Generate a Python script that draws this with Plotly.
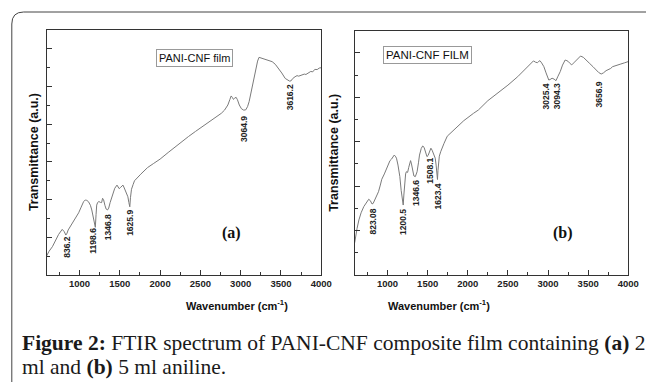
import plotly.graph_objects as go

W, H = 657, 382

# ---- data ----
wn_a = [590, 620, 663, 700, 740, 785, 810, 830, 845, 859, 890, 928, 960, 989, 1020, 1050, 1071, 1090,
        1111, 1135, 1152, 1168, 1185, 1196, 1205, 1213, 1225, 1240, 1260, 1274, 1286, 1298, 1315, 1330,
        1347, 1362, 1380, 1396, 1420, 1437, 1465, 1480, 1492, 1510, 1525, 1539, 1555, 1567, 1585, 1600,
        1612, 1624, 1632, 1645, 1665, 1682, 1760, 1844, 1920, 2000, 2100, 2200, 2280, 2353, 2440, 2536,
        2620, 2700, 2760, 2800, 2841, 2865, 2882, 2897, 2910, 2925, 2943, 2960, 2983, 3010, 3037, 3062,
        3085, 3105, 3126, 3155, 3187, 3210, 3228, 3250, 3269, 3300, 3340, 3391, 3430, 3472, 3510, 3553,
        3585, 3606, 3625, 3645, 3675, 3700, 3720, 3757, 3790, 3810, 3838, 3870, 3895, 3920, 3950, 3975, 4000]
t_a = [1.00, 1.25, 1.50, 1.80, 2.15, 2.42, 2.30, 2.12, 2.22, 2.39, 2.60, 2.83, 3.05, 3.30, 3.60, 3.89, 3.98, 3.96,
       3.89, 3.70, 3.45, 3.10, 2.65, 2.53, 3.20, 3.71, 3.85, 3.90, 3.85, 3.84, 4.07, 4.00, 3.70, 3.50,
       3.45, 3.55, 3.85, 4.07, 4.40, 4.60, 4.77, 4.68, 4.58, 4.65, 4.72, 4.77, 4.62, 4.50, 4.30, 4.15,
       3.85, 3.62, 4.10, 4.55, 4.80, 5.00, 5.35, 5.70, 5.92, 6.15, 6.50, 6.85, 7.10, 7.35, 7.62, 7.90,
       8.15, 8.40, 8.58, 8.75, 9.02, 9.30, 9.50, 9.42, 9.32, 9.38, 9.43, 9.30, 9.02, 8.82, 8.75, 8.76,
       8.93, 9.20, 9.64, 10.25, 10.88, 11.35, 11.55, 11.52, 11.50, 11.45, 11.40, 11.32, 11.18, 10.96, 10.72, 10.43,
       10.33, 10.29, 10.30, 10.42, 10.52, 10.58, 10.55, 10.61, 10.66, 10.64, 10.73, 10.80, 10.78, 10.91, 10.90, 10.98, 11.00]

wn_b = [590, 600, 620, 643, 670, 704, 735, 765, 785, 806, 820, 838, 860, 887, 910, 928, 960, 989, 1010, 1030,
        1050, 1065, 1083, 1097, 1111, 1130, 1153, 1170, 1185, 1195, 1203, 1214, 1225, 1234, 1250, 1264, 1275,
        1287, 1298, 1312, 1328, 1346, 1360, 1368, 1385, 1398, 1420, 1438, 1455, 1470, 1491, 1505, 1520, 1540,
        1555, 1570, 1594, 1605, 1613, 1622, 1628, 1634, 1645, 1662, 1682, 1704, 1744, 1846, 1950, 2071, 2132,
        2250, 2377, 2500, 2622, 2700, 2750, 2785, 2818, 2845, 2867, 2885, 2899, 2920, 2948, 2975, 3000, 3009,
        3025, 3050, 3075, 3099, 3120, 3152, 3180, 3213, 3235, 3253, 3275, 3295, 3320, 3356, 3380, 3405, 3440,
        3479, 3520, 3560, 3600, 3630, 3662, 3690, 3723, 3750, 3780, 3804, 3850, 3907, 3950, 4000]
t_b = [1.45, 1.75, 2.10, 2.48, 2.80, 3.08, 3.28, 3.41, 3.35, 3.20, 3.22, 3.38, 3.55, 3.75, 4.05, 4.31, 4.55, 4.80, 5.00, 5.15,
       5.22, 5.30, 5.40, 5.35, 5.26, 4.95, 4.43, 3.80, 3.23, 3.15, 3.60, 4.28, 4.55, 4.65, 4.62, 4.85, 5.03,
       5.15, 5.00, 4.70, 4.46, 4.43, 4.55, 4.65, 5.05, 5.40, 5.70, 5.81, 5.75, 5.55, 5.33, 5.38, 5.55, 5.71,
       5.62, 5.45, 5.26, 4.95, 4.36, 4.30, 4.70, 5.18, 5.35, 5.55, 5.75, 5.93, 6.25, 6.60, 6.95, 7.28, 7.43,
       7.85, 8.20, 8.55, 8.93, 9.20, 9.40, 9.53, 9.64, 9.58, 9.56, 9.62, 9.65, 9.55, 9.38, 9.10, 8.85, 8.78,
       8.80, 8.86, 8.82, 8.75, 8.92, 9.16, 9.45, 9.68, 9.65, 9.61, 9.52, 9.46, 9.55, 9.68, 9.80, 9.86, 9.80,
       9.68, 9.52, 9.38, 9.22, 9.12, 9.05, 9.10, 9.20, 9.24, 9.30, 9.38, 9.42, 9.50, 9.55, 9.61]

# peak labels: (text, wavenumber position, transmittance position)
labels_a = [("836.2", 843, 1.49), ("1198.6", 1174, 1.80), ("1346.8", 1356, 2.55),
            ("1625.9", 1625, 2.76), ("3064.9", 3041, 7.75), ("3616.2", 3615, 9.44)]
labels_b = [("823.08", 814, 2.39), ("1200.5", 1193, 2.39), ("1346.6", 1353, 3.69),
            ("1508.1", 1524, 4.68), ("1623.4", 1622, 3.56), ("3025.4", 2980, 8.06),
            ("3094.3", 3115, 8.06), ("3656.9", 3641, 8.15)]

x_tickvals = [1000, 1500, 2000, 2500, 3000, 3500, 4000]
x_ticktext = [str(v) for v in x_tickvals]


def px(x):
    return x / W


def py(y):
    return 1 - y / H


fig = go.Figure()
line_style = dict(color="#7a7a7a", width=1)
fig.add_trace(go.Scatter(x=wn_a, y=t_a, mode="lines", line=line_style, xaxis="x", yaxis="y",
                         showlegend=False, hoverinfo="skip"))
fig.add_trace(go.Scatter(x=wn_b, y=t_b, mode="lines", line=line_style, xaxis="x2", yaxis="y2",
                         showlegend=False, hoverinfo="skip"))

axis_common = dict(showline=True, mirror=True, linecolor="#333333", linewidth=1, showgrid=False,
                   zeroline=False, ticks="inside", tickcolor="#333333")

xa = dict(axis_common, range=[590, 4000], tickvals=x_tickvals, ticktext=x_ticktext, ticklen=5,
          tickfont=dict(family="Arial, Liberation Sans", size=9.5, color="#222222", weight="bold"),
          minor=dict(ticks="inside", dtick=250, tick0=0, ticklen=3, tickcolor="#333333"))
ya1 = dict(axis_common, range=[0, 13], tickvals=[2, 4, 6, 8, 10, 12], ticklen=5, showticklabels=False,
           minor=dict(ticks="inside", dtick=1, tick0=0, ticklen=3, tickcolor="#333333"))
ya2 = dict(axis_common, range=[0, 11], tickvals=[2, 4, 6, 8, 10], ticklen=5, showticklabels=False,
           minor=dict(ticks="inside", dtick=1, tick0=0, ticklen=3, tickcolor="#333333"))

fig.update_layout(
    width=W, height=H, margin=dict(l=0, r=0, t=0, b=0),
    paper_bgcolor="white", plot_bgcolor="white",
    xaxis=dict(xa, domain=[px(47.3), px(326.7)], anchor="y"),
    yaxis=dict(ya1, domain=[py(275), py(30)], anchor="x"),
    xaxis2=dict(xa, domain=[px(360.7), px(639)], anchor="y2"),
    yaxis2=dict(ya2, domain=[py(275), py(30.7)], anchor="x2"),
)

ann = []
lab_font = dict(family="Arial, Liberation Sans", size=8.5, color="#222222", weight="bold")
for t, x, y in labels_a:
    ann.append(dict(text=t, x=x, y=y, xref="x", yref="y", textangle=-90, showarrow=False, font=lab_font))
for t, x, y in labels_b:
    ann.append(dict(text=t, x=x, y=y, xref="x2", yref="y2", textangle=-90, showarrow=False, font=lab_font))

ann.append(dict(text="PANI-CNF film", x=2424, y=11.54, xref="x", yref="y", showarrow=False,
                font=dict(family="Arial, Liberation Sans", size=11, color="#111111"),
                bordercolor="#999999", borderwidth=1, borderpad=2, bgcolor="white"))
ann.append(dict(text="PANI-CNF FILM", x=1499, y=9.91, xref="x2", yref="y2", showarrow=False,
                font=dict(family="Arial, Liberation Sans", size=11.5, color="#111111"),
                bordercolor="#999999", borderwidth=1, borderpad=2, bgcolor="white"))
ann.append(dict(text="<b>(a)</b>", x=2882, y=2.23, xref="x", yref="y", showarrow=False,
                font=dict(family="Liberation Serif, Times New Roman", size=16, color="#111111")))
ann.append(dict(text="<b>(b)</b>", x=3189, y=1.89, xref="x2", yref="y2", showarrow=False,
                font=dict(family="Liberation Serif, Times New Roman", size=16, color="#111111")))

title_font = dict(family="Arial, Liberation Sans", size=12.5, color="#111111", weight="bold")
for cx in (25, 339):
    ann.append(dict(text="Transmittance (a.u.)", x=px(cx), y=py(152.5), xref="paper", yref="paper",
                    textangle=-90, showarrow=False, font=title_font))
xt_font = dict(family="Arial, Liberation Sans", size=11, color="#111111", weight="bold")
for cx in (187, 500):
    ann.append(dict(text="Wavenumber (cm<sup>-1</sup>)", x=px(cx), y=py(314), xref="paper", yref="paper",
                    showarrow=False, font=xt_font))

cap_font = dict(family="Liberation Serif, Times New Roman", size=21.5, color="#1a1a1a")
ann.append(dict(text="<b>Figure 2:</b> FTIR spectrum of PANI-CNF composite film containing <b>(a)</b> 2",
                x=px(20), y=py(343), xref="paper", yref="paper", xanchor="left", yanchor="middle",
                showarrow=False, font=cap_font))
ann.append(dict(text="ml and <b>(b)</b> 5 ml aniline.",
                x=px(20), y=py(367), xref="paper", yref="paper", xanchor="left", yanchor="middle",
                showarrow=False, font=cap_font))

fig.update_layout(annotations=ann)

# rounded frame (top-left corner)
path = "M {a},{b} L {a},{c} Q {a},{d} {e},{d} L {f},{d}".format(
    a=px(12), b=py(382), c=py(24), d=py(12), e=px(24), f=px(657))
fig.add_shape(type="path", path=path, xref="paper", yref="paper", line=dict(color="#444444", width=1))

fig.write_html("out.html", config={"displayModeBar": False},
               post_script="document.body.style.margin='0px';document.body.style.overflow='hidden';")
